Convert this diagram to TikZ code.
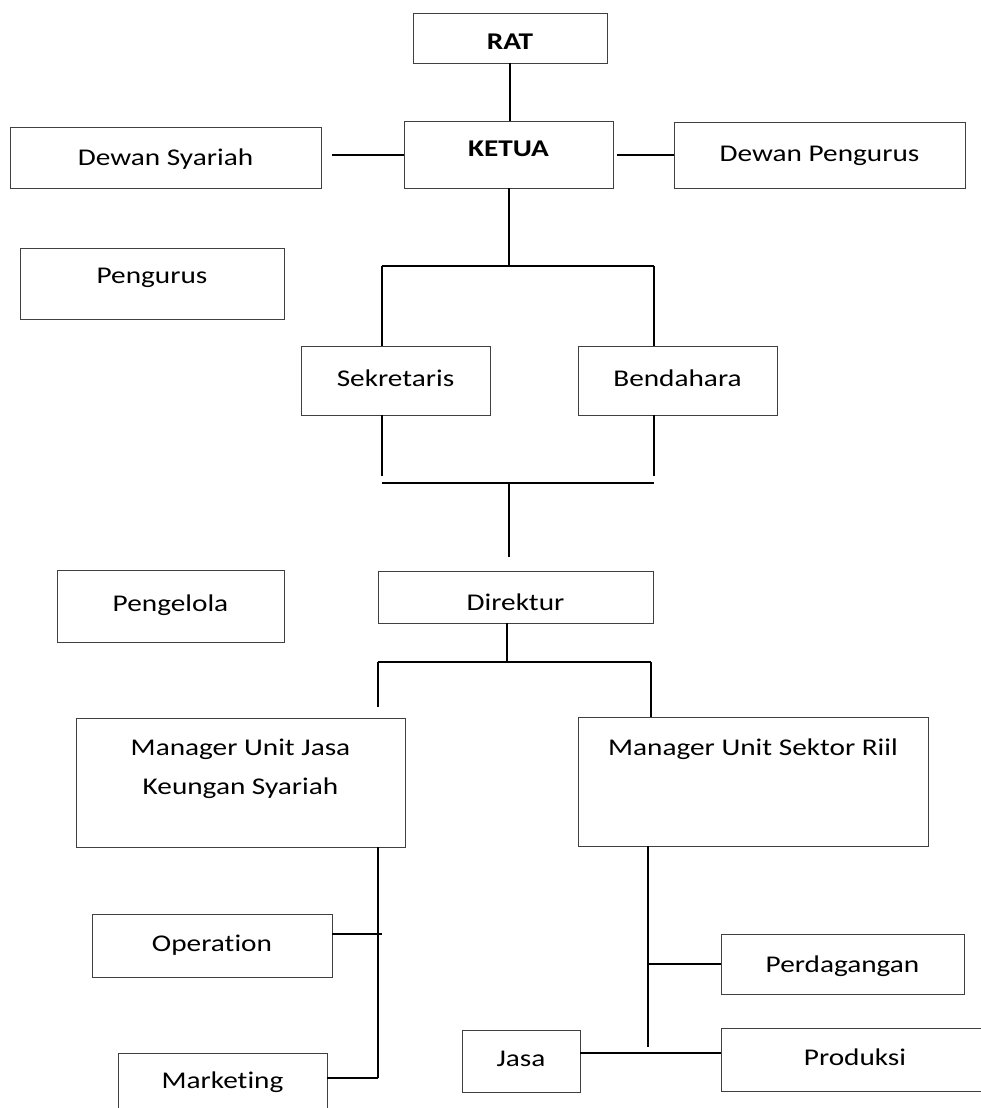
\documentclass[tikz,border=0pt]{standalone}
\usepackage{fontspec}
\setmainfont{Carlito}[FakeStretch=1.22, Ligatures=NoCommon]
\tikzset{
  orgbox/.style={draw=black!75, line width=0.9pt, inner sep=0pt, align=center,
    text height=16pt, text depth=5pt, font=\fontsize{24}{39}\selectfont},
  headbox/.style={orgbox, font=\fontsize{24}{30}\selectfont\bfseries},
  boxtext/.style={align=center, font=\fontsize{24}{39}\selectfont},
  link/.style={draw=black, line width=2pt}
}

\begin{document}
\begin{tikzpicture}[x=1pt,y=-1pt]
  \useasboundingbox (0,0) rectangle (980,1108);
  % top level
  \node (rat) [headbox, text height=28pt, minimum width=194, minimum height=50] at (510,38) {RAT};
  \node (ketua) [headbox, text depth=13pt, minimum width=209, minimum height=67] at (508.5,154.5) {KETUA};
  \node (syariah) [orgbox, text height=20pt, minimum width=311, minimum height=61] at (165.5,157.5) {Dewan Syariah};
  \node (dpengurus) [orgbox, text height=18pt, minimum width=291, minimum height=66] at (819.5,155) {Dewan Pengurus};
  \node (pengurus) [orgbox, text depth=17pt, minimum width=264, minimum height=71] at (152,283.5) {Pengurus};
  % pengurus
  \node (sekretaris) [orgbox, minimum width=189, minimum height=69] at (395.5,380.5) {Sekretaris};
  \node (bendahara) [orgbox, minimum width=199, minimum height=69] at (677.5,380.5) {Bendahara};
  % pengelola
  \node (pengelola) [orgbox, minimum width=227, minimum height=72] at (170.5,606) {Pengelola};
  \node (direktur) [orgbox, text height=32pt, minimum width=275, minimum height=52] at (515.5,597) {Direktur};
  \node (mjks) [orgbox, minimum width=329, minimum height=129,
    label={[boxtext, anchor=north, yshift=-18]north:{Manager Unit Jasa\\Keungan Syariah}}] at (240.5,782.5) {};
  \node (msr) [orgbox, minimum width=350, minimum height=129,
    label={[boxtext, anchor=north, yshift=-19]north:{Manager Unit Sektor Riil}}] at (753,781.5) {};
  % units
  \node (operation) [orgbox, minimum width=240, minimum height=63] at (212,945.5) {Operation};
  \node (marketing) [orgbox, minimum width=209, minimum height=60] at (222.5,1083) {Marketing};
  \node (perdagangan) [orgbox, text height=22pt, minimum width=243, minimum height=60] at (842.5,964) {Perdagangan};
  \node (jasa) [orgbox, minimum width=118, minimum height=62] at (521,1061) {Jasa};
  \node (produksi) [orgbox, minimum width=268, minimum height=63] at (855,1059.5) {Produksi};

  % junctions
  \coordinate (topL) at (382,266);
  \coordinate (topR) at (654,266);
  \coordinate (midL) at (382,483);
  \coordinate (midR) at (654,483);
  \coordinate (midC) at (509,483);
  \coordinate (lowL) at (378,662);
  \coordinate (lowR) at (651,662);
  \coordinate (lowC) at (507,662);
  \coordinate (opJ) at (382,934);
  \coordinate (jksB) at (378,1078);
  \coordinate (srB) at (648,1047);

  % lines
  \draw[link] (rat.south) -- (rat.south |- ketua.north);
  \draw[link, shorten >=11] (ketua.west) -- (ketua.west -| syariah.east);
  \draw[link, shorten <=4] (ketua.east) -- (ketua.east -| dpengurus.west);
  \draw[link] (ketua.south) -- (ketua.south |- topL);
  \draw[link] (topL) -- (topR);
  \draw[link] (topL) -- (topL |- sekretaris.north);
  \draw[link] (topR) -- (topR |- bendahara.north);
  \draw[link] (midL |- sekretaris.south) -- ([yshift=7]midL);
  \draw[link] (midR |- bendahara.south) -- ([yshift=7]midR);
  \draw[link] (midL) -- (midR);
  \draw[link, shorten >=14] (midC) -- (midC |- direktur.north);
  \draw[link] (lowC |- direktur.south) -- (lowC);
  \draw[link] (lowL) -- (lowR);
  \draw[link, shorten >=11] (lowL) -- (lowL |- mjks.north);
  \draw[link] (lowR) -- (lowR |- msr.north);
  \draw[link] (jksB |- mjks.south) -- (jksB);
  \draw[link] (operation.east |- opJ) -- (opJ);
  \draw[link] (marketing.east |- jksB) -- (jksB);
  \draw[link] (srB |- msr.south) -- (srB);
  \draw[link] (srB |- perdagangan.west) -- (perdagangan.west);
  \draw[link] ([yshift=8]jasa.east) -- ([yshift=8]jasa.east -| produksi.west);
\end{tikzpicture}
\end{document}
